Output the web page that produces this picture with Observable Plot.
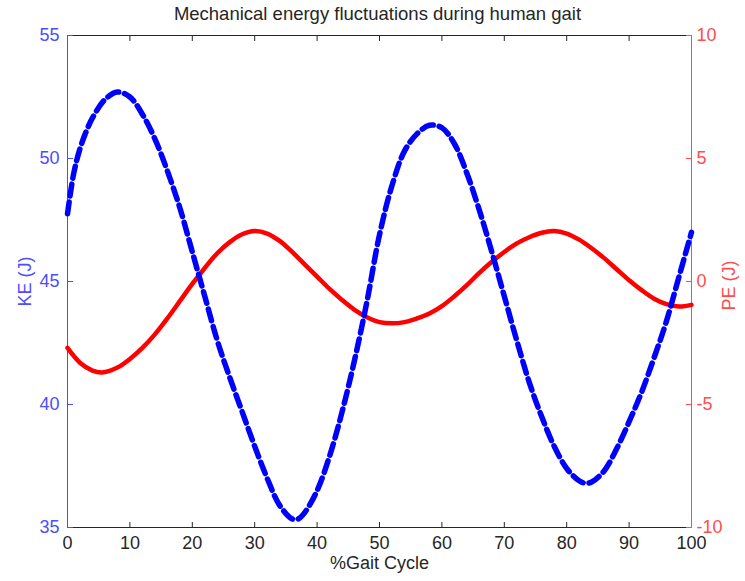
<!DOCTYPE html>
<html><head><meta charset="utf-8">
<script src="https://cdn.jsdelivr.net/npm/d3@7"></script>
<script src="https://cdn.jsdelivr.net/npm/@observablehq/plot@0.6"></script>
<style>
body{margin:0;background:#fff;font-family:"Liberation Sans",Arial,sans-serif;position:relative;}
#title{position:absolute;top:3px;left:0;width:745px;box-sizing:border-box;padding-left:10px;text-align:center;font-size:18.5px;line-height:22px;color:#262626;}
</style></head><body>
<div id="chart"></div>
<div id="title">Mechanical energy fluctuations during human gait</div>
<script>
// Kinetic energy (left axis, J)
const keX = [0,1,2,3,4,6,8,10,12,14,16,18,20,22,24,26,28,30,32,34,36,37,38,40,42,44,46,48,50,52,54,56,58,60,62,64,66,68,70,72,74,76,78,80,82,83,84,86,88,90,92,94,96,98,100];
const keY = [47.75,49.4,50.4,51.1,51.65,52.4,52.7,52.5,51.8,50.8,49.5,48.0,46.2,44.4,42.6,41.1,39.7,38.3,37.0,35.9,35.35,35.35,35.6,36.5,37.9,39.7,41.8,44.2,46.9,48.9,50.3,51.0,51.35,51.25,50.6,49.4,47.9,46.2,44.4,42.6,40.9,39.5,38.3,37.4,36.9,36.8,36.85,37.3,38.2,39.3,40.5,41.9,43.4,45.2,47.0];
// Potential energy (right axis, J)
const peX = [0,2,4,5.5,8,10,12,14,16,18,20,22,24,26,28,30,32,34,36,38,40,42,44,46,48,50,52,54,56,58,60,62,64,66,68,70,72,74,76,78,80,82,84,86,88,90,92,94,96,98,100];
const peY = [-2.7,-3.3,-3.62,-3.7,-3.5,-3.15,-2.7,-2.15,-1.5,-0.8,-0.1,0.55,1.15,1.6,1.92,2.05,1.95,1.65,1.2,0.7,0.2,-0.3,-0.75,-1.15,-1.45,-1.65,-1.7,-1.65,-1.5,-1.3,-1.0,-0.6,-0.15,0.35,0.8,1.2,1.55,1.8,1.98,2.05,1.95,1.7,1.35,0.95,0.5,0.05,-0.35,-0.7,-0.92,-1.02,-0.95];

const xTicks = [0,10,20,30,40,50,60,70,80,90,100];
const keTicks = [35,40,45,50,55];
const peTicks = [-10,-5,0,5,10];
const keDomain = [35,55];
const peDomain = [-10,10];
const xDomain = [0,100];

const title = "Mechanical energy fluctuations during human gait";
const xLabel = "%Gait Cycle";
const keLabel = "KE (J)";
const peLabel = "PE (J)";

// map PE values onto the shared (KE) vertical scale
const peToKe = d3.scaleLinear(peDomain, keDomain);
const keToPe = peToKe.invert;

const keData = keX.map((x, i) => ({x, y: keY[i]}));
const peData = peX.map((x, i) => ({x, y: peToKe(peY[i])}));

const blue = "#0000ff", red = "#ff0000";
const blueAxis = "#4d4dff", redAxis = "#ff4d4d", dark = "#262626";

const chart = Plot.plot({
  width: 745, height: 581,
  marginLeft: 67, marginRight: 54, marginTop: 35, marginBottom: 54,
  style: {fontFamily: "'Liberation Sans', Arial, sans-serif", fontSize: "18px", background: "#fff"},
  x: {domain: xDomain, label: null},
  y: {domain: keDomain, label: null},
  marks: [
    Plot.ruleY([keDomain[1]], {stroke: dark}),
    Plot.ruleY([keDomain[0]], {stroke: dark}),
    Plot.axisX(xTicks, {anchor: "top", tickSize: -5, tickFormat: () => "", stroke: dark, label: null}),
    Plot.axisX(xTicks, {anchor: "bottom", tickSize: -5, tickPadding: 14, stroke: dark, fill: dark, label: null}),
    Plot.ruleX([xDomain[0]], {stroke: blueAxis}),
    Plot.ruleX([xDomain[1]], {stroke: redAxis}),
    Plot.axisY(keTicks, {anchor: "left", tickSize: -6, tickPadding: 14, stroke: blueAxis, fill: blueAxis, label: null}),
    Plot.axisY(peTicks.map(peToKe), {anchor: "right", tickSize: -6, tickPadding: 11, stroke: redAxis, fill: redAxis, tickFormat: d => Math.round(keToPe(d)), label: null}),
    Plot.line(peData, {x: "x", y: "y", stroke: red, strokeWidth: 4.5, curve: "catmull-rom"}),
    Plot.line(keData, {x: "x", y: "y", stroke: blue, strokeWidth: 5.5, strokeDasharray: "12,6", curve: "catmull-rom"}),
    Plot.text([xLabel], {frameAnchor: "bottom", dy: 41, fill: dark}),
    Plot.text([keLabel], {frameAnchor: "left", textAnchor: "middle", dx: -42, rotate: -90, fill: blueAxis}),
    Plot.text([peLabel], {frameAnchor: "right", textAnchor: "middle", dx: 38, dy: 4, rotate: -90, fill: redAxis})
  ]
});
document.getElementById("title").textContent = title;
document.getElementById("chart").appendChild(chart);
</script>
</body></html>
